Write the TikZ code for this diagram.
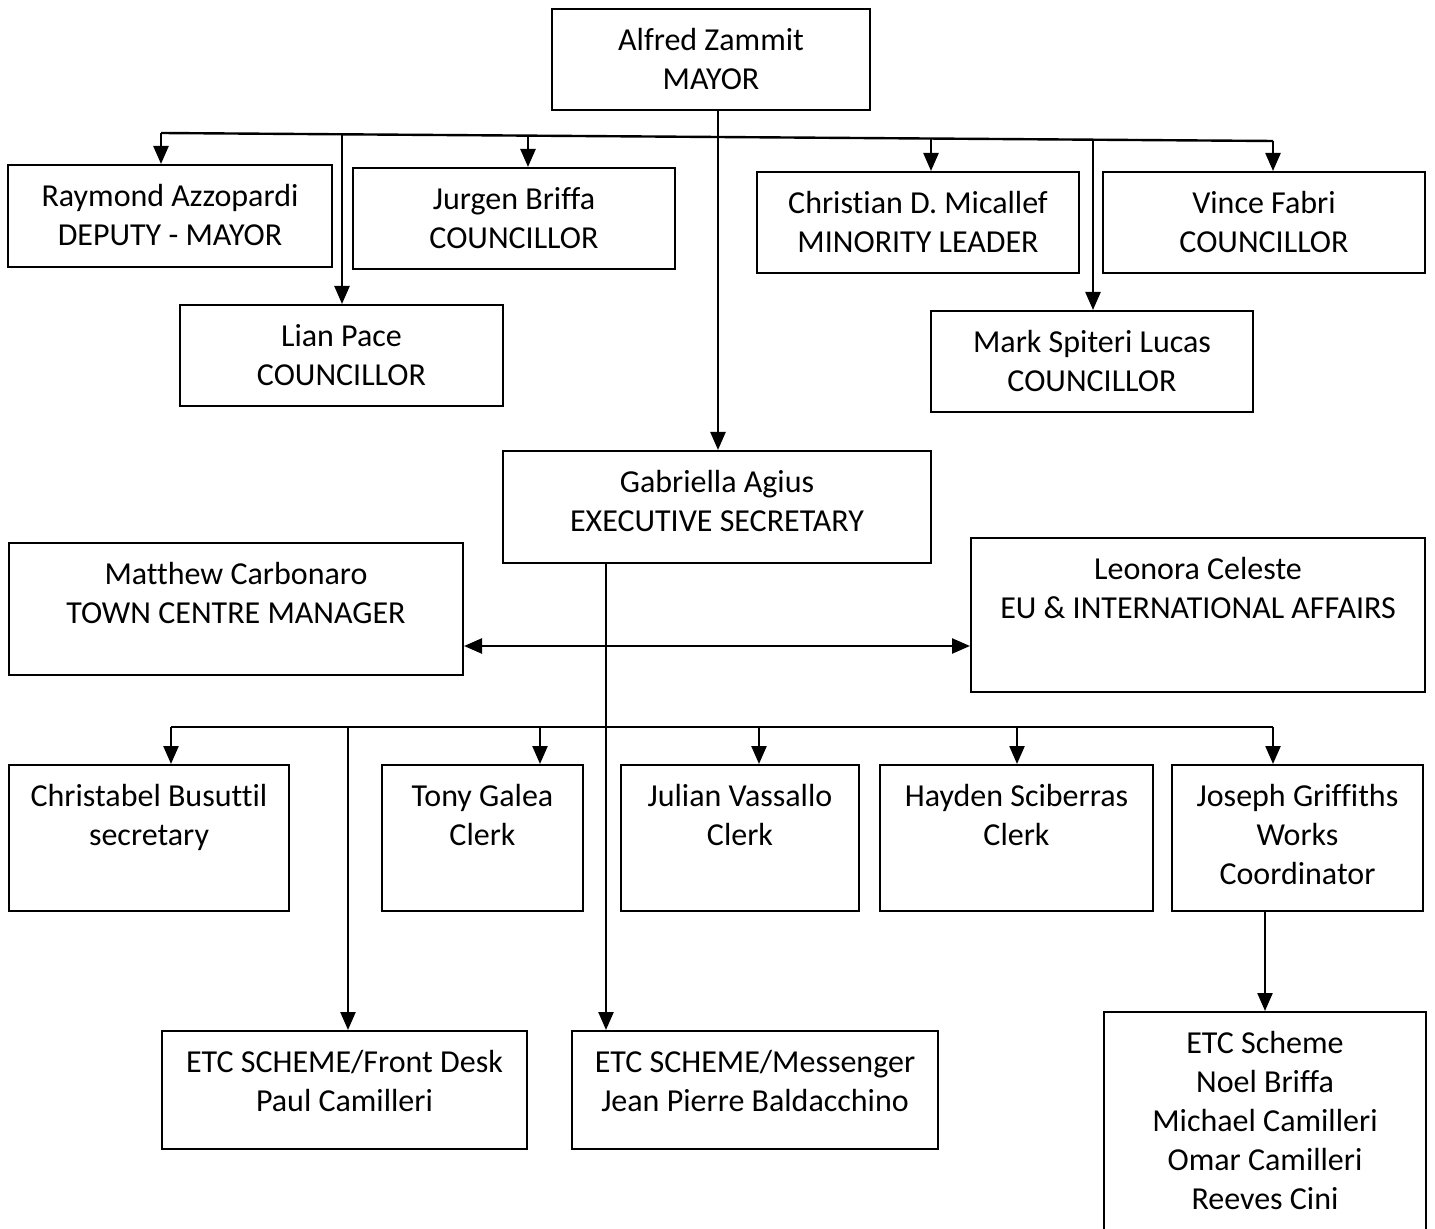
\documentclass[tikz,border=0pt]{standalone}
\usepackage{fontspec}
\setmainfont{Carlito}[Ligatures=NoCommon]
\usetikzlibrary{arrows.meta}
\tikzset{
  post/.style={draw,rectangle,line width=1pt,inner sep=0pt},
  roletext/.style={align=center,anchor=north,inner sep=0pt,yshift=-10pt,font=\fontsize{16}{19.5}\selectfont},
  link/.style={line width=1.2pt},
  arrowed/.style={-{Triangle[length=9pt,width=7.5pt]}},
  twoway/.style={{Triangle[length=9pt,width=7.5pt]}-{Triangle[length=9pt,width=7.5pt]}}
}
\begin{document}
\begin{tikzpicture}[x=0.5pt,y=-0.5pt]
\path[use as bounding box] (0,0) rectangle (1435,1229);
\clip (0,0) rectangle (1435,1229);
\draw (711,59.5) node[post,minimum width=159pt,minimum height=50.5pt,label={[roletext]north:{Alfred Zammit\\MAYOR}}](mayor) {};
\draw (170,216) node[post,minimum width=162pt,minimum height=51pt,label={[roletext]north:{Raymond Azzopardi\\DEPUTY - MAYOR}}](deputy) {};
\draw (514,218.5) node[post,minimum width=161pt,minimum height=50.5pt,label={[roletext]north:{Jurgen Briffa\\COUNCILLOR}}](jurgen) {};
\draw (918,222.5) node[post,minimum width=161pt,minimum height=50.5pt,label={[roletext]north:{Christian D. Micallef\\MINORITY LEADER}}](minority) {};
\draw (1264,222.5) node[post,minimum width=161pt,minimum height=50.5pt,label={[roletext]north:{Vince Fabri\\COUNCILLOR}}](vince) {};
\draw (341.5,355.5) node[post,minimum width=161.5pt,minimum height=50.5pt,label={[roletext]north:{Lian Pace\\COUNCILLOR}}](lian) {};
\draw (1092,361.5) node[post,minimum width=161pt,minimum height=50.5pt,label={[roletext]north:{Mark Spiteri Lucas\\COUNCILLOR}}](mark) {};
\draw (717,507) node[post,minimum width=214pt,minimum height=56pt,label={[roletext]north:{Gabriella Agius\\EXECUTIVE SECRETARY}}](exec) {};
\draw (236,609) node[post,minimum width=227pt,minimum height=66pt,label={[roletext]north:{Matthew Carbonaro\\TOWN CENTRE MANAGER}}](tcm) {};
\draw (1198,615) node[post,minimum width=227pt,minimum height=77pt,label={[roletext]north:{Leonora Celeste\\EU \& INTERNATIONAL AFFAIRS}}](eu) {};
\draw (149,838) node[post,minimum width=140pt,minimum height=73pt,label={[roletext]north:{Christabel Busuttil\\secretary}}](christabel) {};
\draw (482.5,838) node[post,minimum width=100.5pt,minimum height=73pt,label={[roletext]north:{Tony Galea\\Clerk}}](tony) {};
\draw (740,838) node[post,minimum width=119pt,minimum height=73pt,label={[roletext]north:{Julian Vassallo\\Clerk}}](julian) {};
\draw (1016.5,838) node[post,minimum width=136.5pt,minimum height=73pt,label={[roletext]north:{Hayden Sciberras\\Clerk}}](hayden) {};
\draw (1297.5,838) node[post,minimum width=125.5pt,minimum height=73pt,label={[roletext]north:{Joseph Griffiths\\Works\\Coordinator}}](joseph) {};
\draw (344.5,1090) node[post,minimum width=182.5pt,minimum height=59pt,label={[roletext]north:{ETC SCHEME/Front Desk\\Paul Camilleri}}](frontdesk) {};
\draw (755,1090) node[post,minimum width=183pt,minimum height=59pt,label={[roletext]north:{ETC SCHEME/Messenger\\Jean Pierre Baldacchino}}](messenger) {};
\draw (1265,1131) node[post,minimum width=161pt,minimum height=119pt,label={[roletext]north:{ETC Scheme\\Noel Briffa\\Michael Camilleri\\Omar Camilleri\\Reeves Cini}}](etc) {};
\coordinate (top1) at (161,133);
\coordinate (top2) at (342,134.3);
\coordinate (top3) at (528,135.6);
\coordinate (top4) at (931,138.5);
\coordinate (top5) at (1093,139.7);
\coordinate (top6) at (1273,141);
\coordinate (down) at (718,110);
\coordinate (split) at (606,563);
\coordinate (side) at (606,646);
\coordinate (low1) at (171,727);
\coordinate (low2) at (348,727);
\coordinate (low3) at (540,727);
\coordinate (low4) at (759,727);
\coordinate (low5) at (1017,727);
\coordinate (low6) at (1273,727);
\draw[link] (top1) -- (top6);
\draw[link,arrowed] (top1) -- (top1 |- deputy.north);
\draw[link,arrowed] (top2) -- (top2 |- lian.north);
\draw[link,arrowed] (top3) -- (top3 |- jurgen.north);
\draw[link,arrowed] (top4) -- (top4 |- minority.north);
\draw[link,arrowed] (top5) -- (top5 |- mark.north);
\draw[link,arrowed] (top6) -- (top6 |- vince.north);
\draw[link,arrowed] (down) -- (down |- exec.north);
\draw[link,arrowed] (split) -- (split |- messenger.north);
\draw[link,twoway] (side -| tcm.east) -- (side -| eu.west);
\draw[link] (low1) -- (low6);
\draw[link,arrowed] (low1) -- (low1 |- christabel.north);
\draw[link,arrowed] (low2) -- (low2 |- frontdesk.north);
\draw[link,arrowed] (low3) -- (low3 |- tony.north);
\draw[link,arrowed] (low4) -- (low4 |- julian.north);
\draw[link,arrowed] (low5) -- (low5 |- hayden.north);
\draw[link,arrowed] (low6) -- (low6 |- joseph.north);
\draw[link,arrowed] (etc.north |- joseph.south) -- (etc.north);
\end{tikzpicture}
\end{document}
